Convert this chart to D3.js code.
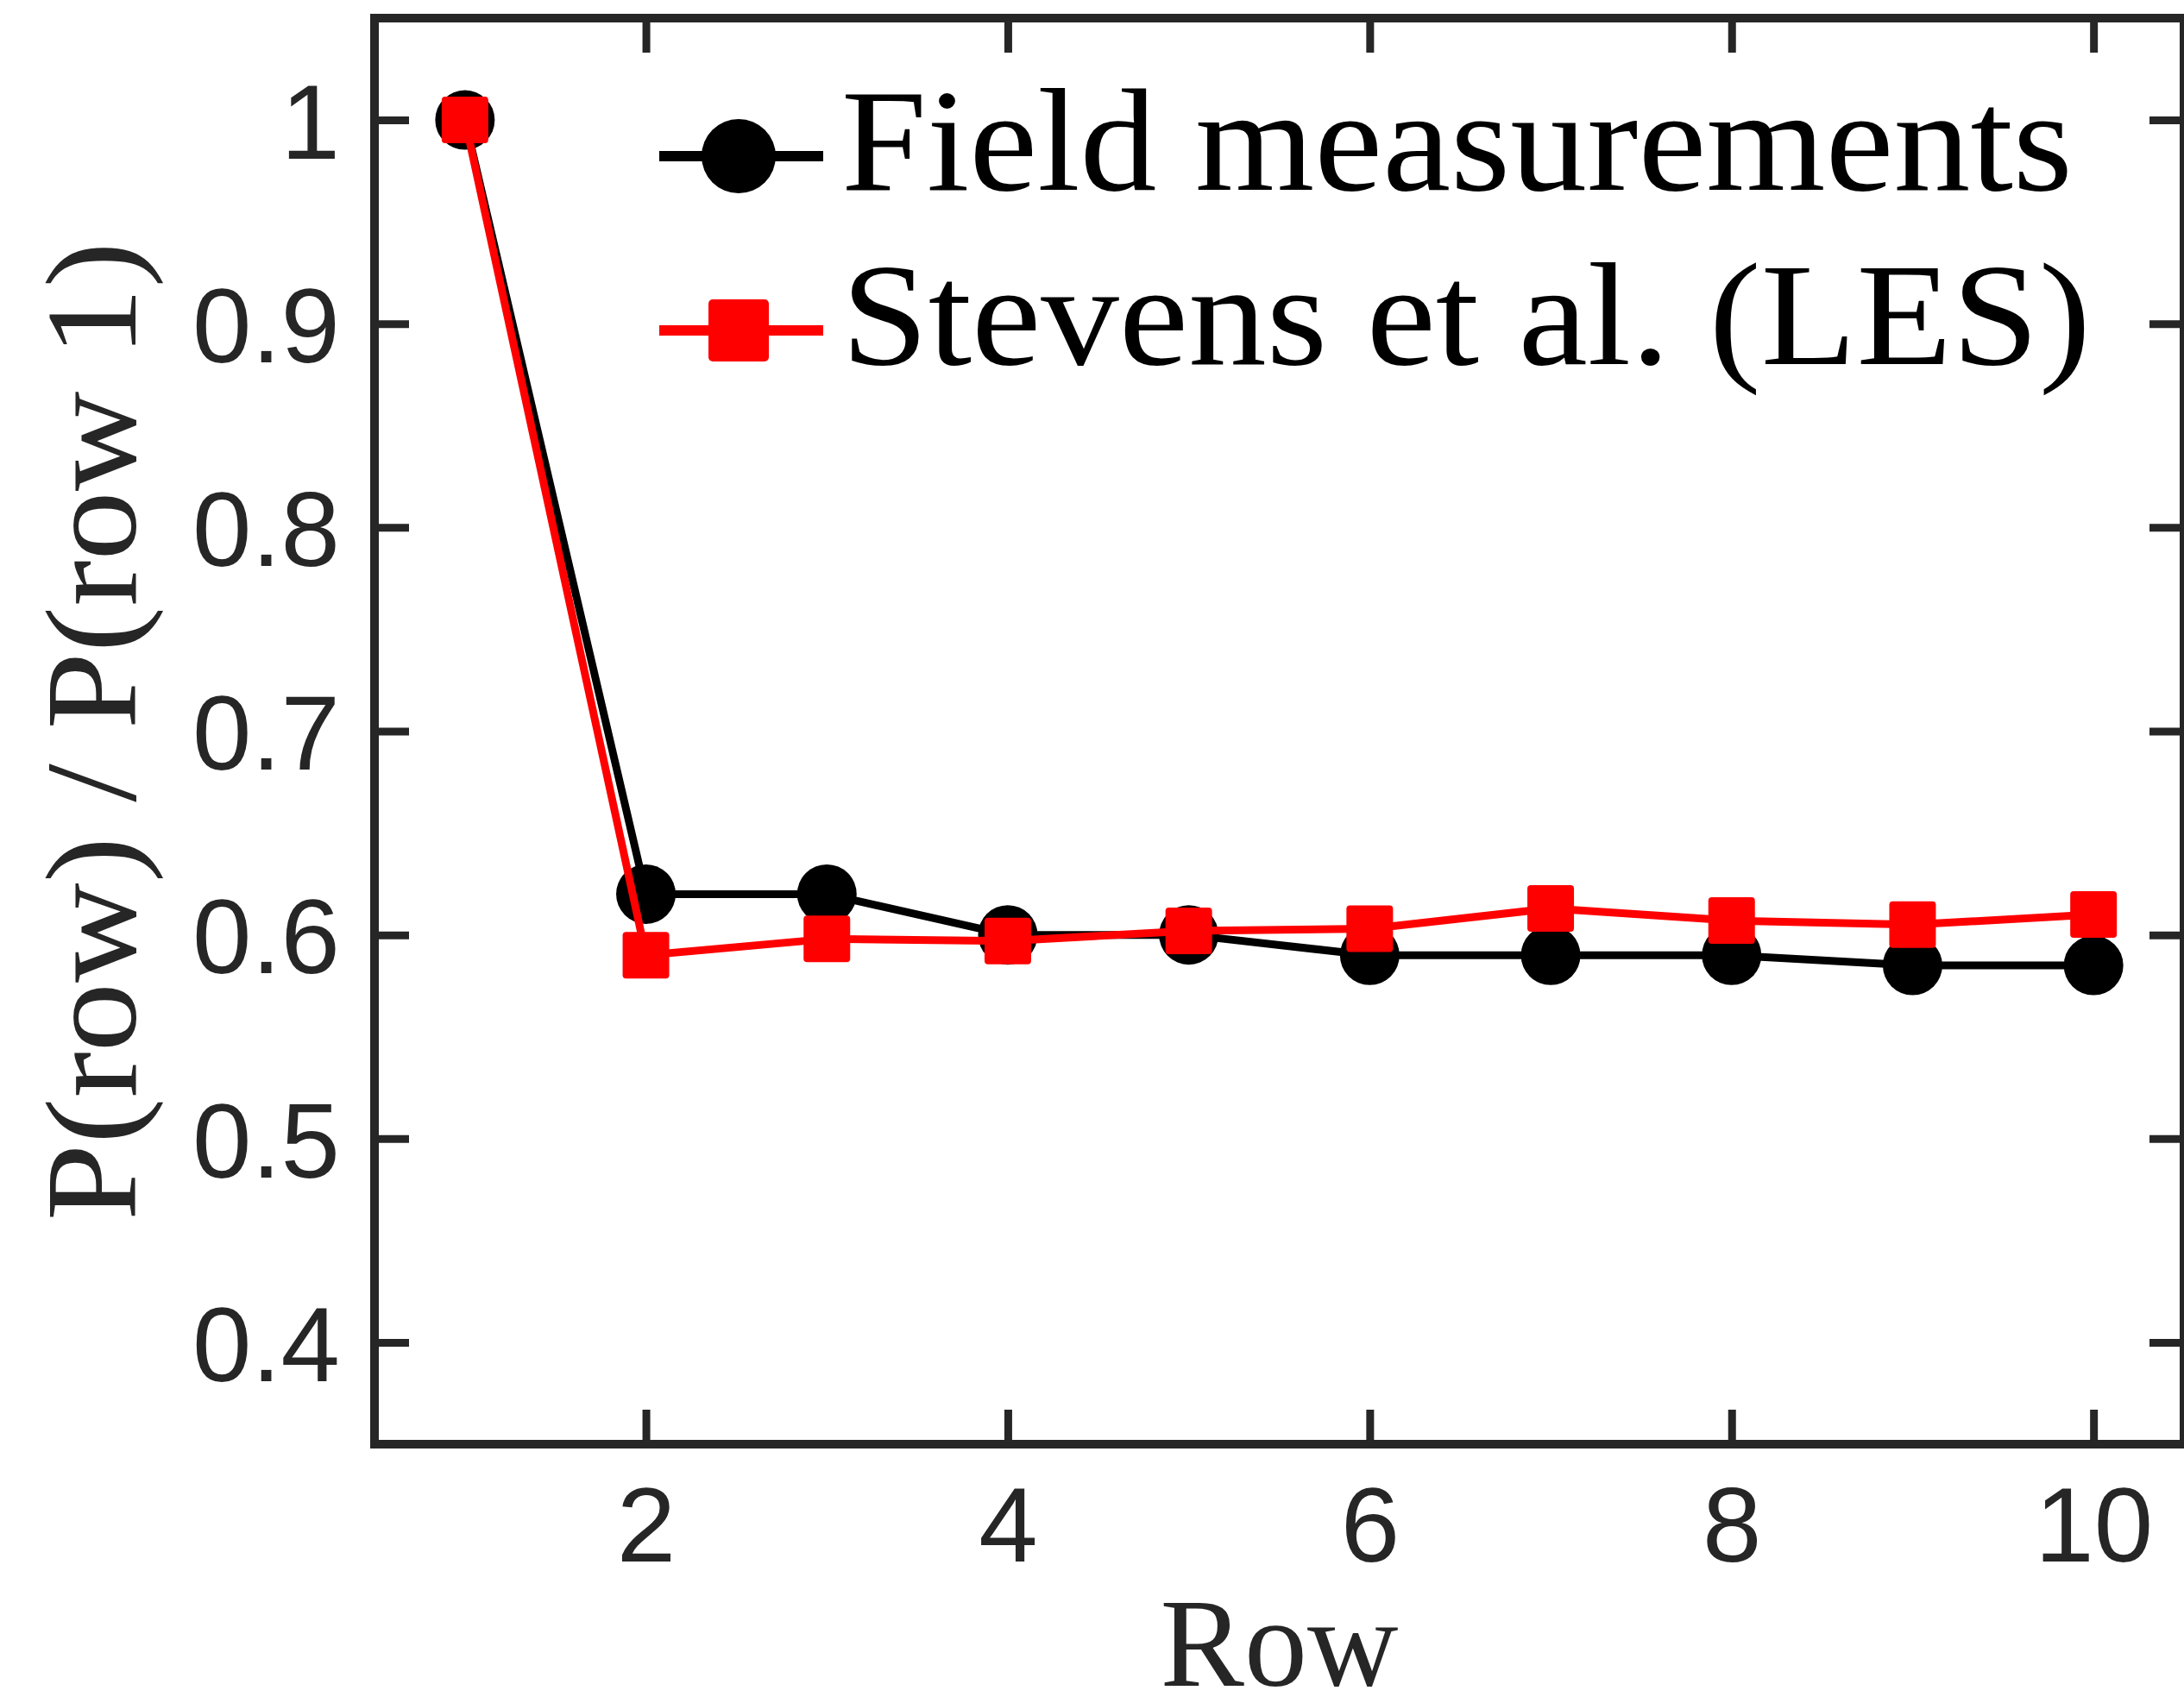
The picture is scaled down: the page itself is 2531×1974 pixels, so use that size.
<!DOCTYPE html>
<html>
<head>
<meta charset="utf-8">
<script src="https://cdn.jsdelivr.net/npm/d3@7"></script>
<style>
  html, body { margin: 0; padding: 0; background: #fff; }
  svg { display: block; }
</style>
</head>
<body>
<script>
// Row numbers and normalised power P(row)/P(row 1)
const rows = [1, 2, 3, 4, 5, 6, 7, 8, 9, 10];
const fieldValues = [1.0, 0.62, 0.62, 0.60, 0.60, 0.59, 0.59, 0.59, 0.585, 0.585];
const lesValues = [1.0, 0.590, 0.598, 0.597, 0.602, 0.603, 0.613, 0.607, 0.605, 0.610];

const xTickValues = [2, 4, 6, 8, 10];
const yTickValues = [0.4, 0.5, 0.6, 0.7, 0.8, 0.9, 1];

const seriesNames = ["Field measurements", "Stevens et al. (LES)"];

const W = 2531, H = 1974;
const plotLeft = 434, plotRight = 2531, plotTop = 21, plotBottom = 1674;
const axisColor = "#262626";

const svg = d3.select("body").append("svg")
  .attr("width", W).attr("height", H);

const x = d3.scaleLinear().domain([0.5, 10.5]).range([plotLeft, plotRight]);
const y = d3.scaleLinear().domain([0.35, 1.05]).range([plotBottom, plotTop]);

const tickFont = "'Liberation Sans', Arial, Helvetica, sans-serif";
const serifFont = "'Liberation Serif', 'Times New Roman', serif";

// Axes: labelled bottom/left, tick-only top/right, all ticks pointing inward
function styleAxis(g) {
  g.select(".domain").remove();
  g.selectAll(".tick line").attr("stroke", axisColor).attr("stroke-width", 9);
  g.selectAll(".tick text")
    .attr("fill", axisColor)
    .style("font-family", tickFont)
    .style("font-size", "123px");
}

svg.append("g")
  .attr("transform", `translate(0,${plotBottom})`)
  .call(d3.axisBottom(x).tickValues(xTickValues).tickSize(-40).tickPadding(49).tickFormat(d3.format("d")))
  .call(styleAxis);

svg.append("g")
  .attr("transform", `translate(0,${plotTop})`)
  .call(d3.axisTop(x).tickValues(xTickValues).tickSize(-40).tickFormat(""))
  .call(styleAxis);

svg.append("g")
  .attr("transform", `translate(${plotLeft},0)`)
  .call(d3.axisLeft(y).tickValues(yTickValues).tickSize(-40).tickPadding(40).tickFormat(d => d === 1 ? "1" : d3.format(".1f")(d)))
  .call(styleAxis)
  .call(g => g.selectAll(".tick text").attr("dy", "0.36em"));

svg.append("g")
  .attr("transform", `translate(${plotRight},0)`)
  .call(d3.axisRight(y).tickValues(yTickValues).tickSize(-40).tickFormat(""))
  .call(styleAxis);

// Plot box
svg.append("rect")
  .attr("x", plotLeft).attr("y", plotTop)
  .attr("width", plotRight - plotLeft).attr("height", plotBottom - plotTop)
  .attr("fill", "none")
  .attr("stroke", axisColor)
  .attr("stroke-width", 10);

const line = d3.line().x(d => x(d[0])).y(d => y(d[1]));

// Field measurements: black line with circles
const fieldData = rows.map((r, i) => [r, fieldValues[i]]);
svg.append("path")
  .datum(fieldData)
  .attr("d", line)
  .attr("fill", "none")
  .attr("stroke", "#000")
  .attr("stroke-width", 9)
  .attr("stroke-linejoin", "round");
svg.append("g").selectAll("circle")
  .data(fieldData)
  .join("circle")
  .attr("cx", d => x(d[0]))
  .attr("cy", d => y(d[1]))
  .attr("r", 34.5)
  .attr("fill", "#000");

// LES: red line with squares
const lesData = rows.map((r, i) => [r, lesValues[i]]);
svg.append("path")
  .datum(lesData)
  .attr("d", line)
  .attr("fill", "none")
  .attr("stroke", "#ff0000")
  .attr("stroke-width", 9)
  .attr("stroke-linejoin", "round");
const sq = 54;
svg.append("g").selectAll("rect")
  .data(lesData)
  .join("rect")
  .attr("x", d => x(d[0]) - sq / 2)
  .attr("y", d => y(d[1]) - sq / 2)
  .attr("width", sq).attr("height", sq)
  .attr("rx", 4)
  .attr("fill", "#ff0000");

// Legend
const legend = svg.append("g");
const lgX0 = 764, lgX1 = 954, lgMid = 856;
const lgRows = [181, 383];
const lgLengths = [1427, 1448];

legend.append("line")
  .attr("x1", lgX0).attr("x2", lgX1)
  .attr("y1", lgRows[0]).attr("y2", lgRows[0])
  .attr("stroke", "#000").attr("stroke-width", 12);
legend.append("circle")
  .attr("cx", lgMid).attr("cy", lgRows[0]).attr("r", 43)
  .attr("fill", "#000");

legend.append("line")
  .attr("x1", lgX0).attr("x2", lgX1)
  .attr("y1", lgRows[1]).attr("y2", lgRows[1])
  .attr("stroke", "#ff0000").attr("stroke-width", 12);
legend.append("rect")
  .attr("x", lgMid - 35).attr("y", lgRows[1] - 36)
  .attr("width", 70).attr("height", 72).attr("rx", 5)
  .attr("fill", "#ff0000");

legend.selectAll("text")
  .data(seriesNames)
  .join("text")
  .attr("x", 975)
  .attr("y", (d, i) => [220, 422][i])
  .attr("textLength", (d, i) => lgLengths[i])
  .attr("lengthAdjust", "spacingAndGlyphs")
  .attr("fill", "#000")
  .style("font-family", serifFont)
  .style("font-size", "169px")
  .text(d => d);

// Axis titles
svg.append("text")
  .attr("x", (plotLeft + plotRight) / 2)
  .attr("y", 1954)
  .attr("text-anchor", "middle")
  .attr("fill", axisColor)
  .style("font-family", serifFont)
  .style("font-size", "146px")
  .text("Row");

svg.append("text")
  .attr("transform", `translate(157,${(plotTop + plotBottom) / 2}) rotate(-90)`)
  .attr("text-anchor", "middle")
  .attr("textLength", 1135)
  .attr("lengthAdjust", "spacingAndGlyphs")
  .attr("fill", axisColor)
  .style("font-family", serifFont)
  .style("font-size", "150px")
  .text("P(row) / P(row 1)");
</script>
</body>
</html>
